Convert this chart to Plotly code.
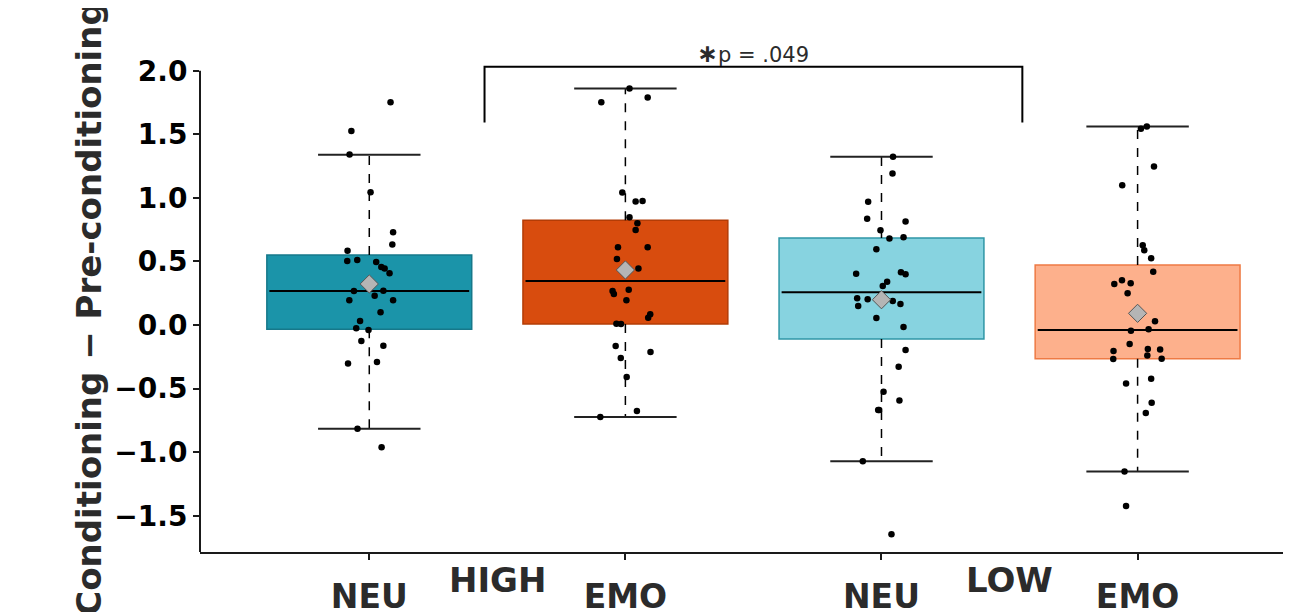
import plotly.graph_objects as go

# ---------------- data ----------------
categories = ["NEU", "EMO", "NEU", "EMO"]
groups = ["HIGH", "LOW"]
group_of_category = [0, 0, 1, 1]

q1 = [-0.034, 0.008, -0.110, -0.265]
median = [0.268, 0.346, 0.257, -0.039]
q3 = [0.551, 0.824, 0.685, 0.472]
upper_whisker = [1.339, 1.861, 1.323, 1.562]
lower_whisker = [-0.816, -0.724, -1.071, -1.152]
means = [0.323, 0.433, 0.199, 0.092]

neu_high = [1.753, 1.525, 1.341, 1.045, 0.730, 0.633, 0.585, 0.504, 0.512, 0.496,
            0.457, 0.444, 0.407, 0.268, 0.270, 0.231, 0.194, 0.194, 0.100, 0.031,
            -0.026, -0.039, -0.126, -0.163, -0.302, -0.291, -0.816, -0.961]
neu_high_jitter = [0.083, -0.070, -0.077, 0.005, 0.093, 0.090, -0.085, -0.086, -0.047, 0.027,
                   0.047, 0.060, 0.079, -0.060, 0.055, 0.021, -0.078, 0.093, 0.044, -0.036,
                   -0.051, -0.003, -0.031, 0.055, -0.083, 0.030, -0.046, 0.048]

emo_high = [1.861, 1.790, 1.753, 1.042, 0.971, 0.976, 0.848, 0.801, 0.748, 0.612,
            0.612, 0.520, 0.444, 0.268, 0.244, 0.278, 0.194, 0.084, 0.058, 0.011,
            0.008, -0.165, -0.213, -0.260, -0.409, -0.677, -0.724]
emo_high_jitter = [0.016, 0.087, -0.094, -0.012, 0.040, 0.067, 0.016, 0.047, 0.040, -0.029,
                   0.087, -0.033, 0.051, -0.050, -0.045, 0.013, 0.004, 0.097, 0.089, -0.035,
                   -0.017, -0.038, 0.098, -0.018, 0.005, 0.045, -0.098]

neu_low = [1.323, 1.191, 0.969, 0.835, 0.814, 0.745, 0.680, 0.690, 0.596, 0.404,
           0.415, 0.399, 0.341, 0.307, 0.210, 0.202, 0.189, 0.165, 0.150, 0.055,
           -0.016, -0.197, -0.328, -0.525, -0.593, -0.669, -0.669, -1.071, -1.646]
neu_low_jitter = [0.045, 0.043, -0.052, -0.056, 0.094, -0.004, 0.031, 0.086, -0.020, -0.099,
                  0.076, 0.094, 0.022, 0.005, -0.095, -0.054, 0.044, 0.074, -0.091, -0.020,
                  0.086, 0.094, 0.067, 0.008, 0.070, -0.013, -0.009, -0.073, 0.039]

emo_low = [1.562, 1.543, 1.247, 1.100, 0.627, 0.588, 0.525, 0.420, 0.352, 0.323,
           0.328, 0.249, 0.029, -0.034, -0.045, -0.150, -0.205, -0.189, -0.192, -0.239,
           -0.268, -0.265, -0.423, -0.459, -0.612, -0.691, -1.152, -1.423]
emo_low_jitter = [0.036, 0.013, 0.064, -0.060, 0.020, 0.026, 0.053, 0.061, -0.061, -0.091,
                  -0.027, -0.039, 0.068, 0.043, -0.026, -0.031, -0.094, 0.040, 0.088, 0.038,
                  -0.095, 0.094, 0.053, -0.045, 0.055, 0.032, -0.051, -0.045]

points = [neu_high, emo_high, neu_low, emo_low]
jitters = [neu_high_jitter, emo_high_jitter, neu_low_jitter, emo_low_jitter]

y_tick_values = [-1.5, -1.0, -0.5, 0.0, 0.5, 1.0, 1.5, 2.0]
y_axis_title = "Conditioning − Pre-conditioning"
sig_star = "∗"
sig_text = "p = .049"

# ---------------- styles ----------------
fill_colors = ["#1b94a9", "#d84c0e", "#87d3e0", "#fdb08c"]
edge_colors = ["#16788a", "#b33c06", "#2f96a6", "#ee7a44"]
box_width = 0.8
cap_width = 0.4
y_range = [-1.785, 2.045]
x_range = [0.339, 4.599]
bracket_x = [1.45, 3.55]
bracket_top = 2.031
bracket_leg = 1.593

positions = [i + 1 for i in range(len(categories))]

fig = go.Figure()

# whiskers (dashed) and caps
for p, lo, hi, a, b in zip(positions, lower_whisker, upper_whisker, q1, q3):
    fig.add_trace(go.Scatter(x=[p, p, None, p, p], y=[b, hi, None, a, lo], mode="lines",
                             line=dict(color="black", width=1.5, dash="dash"),
                             showlegend=False, hoverinfo="skip"))
    fig.add_trace(go.Scatter(x=[p - cap_width / 2, p + cap_width / 2, None,
                                p - cap_width / 2, p + cap_width / 2],
                             y=[hi, hi, None, lo, lo], mode="lines",
                             line=dict(color="#222222", width=2),
                             showlegend=False, hoverinfo="skip"))

# boxes
fig.add_trace(go.Bar(x=positions, base=q1, y=[b - a for a, b in zip(q1, q3)],
                     width=box_width,
                     marker=dict(color=fill_colors, line=dict(color=edge_colors, width=1.5)),
                     showlegend=False, hoverinfo="skip"))

# medians
for p, m in zip(positions, median):
    fig.add_trace(go.Scatter(x=[p - box_width / 2 + 0.01, p + box_width / 2 - 0.01], y=[m, m],
                             mode="lines", line=dict(color="black", width=2),
                             showlegend=False, hoverinfo="skip"))

# jittered points
for p, vals, jit in zip(positions, points, jitters):
    fig.add_trace(go.Scatter(x=[p + j for j in jit], y=vals, mode="markers",
                             marker=dict(color="black", size=6.5),
                             showlegend=False, hoverinfo="skip"))

# means
fig.add_trace(go.Scatter(x=positions, y=means, mode="markers",
                         marker=dict(symbol="diamond", size=14, color="#b5b5b5",
                                     line=dict(color="#555555", width=1)),
                         showlegend=False, hoverinfo="skip"))

# significance bracket
fig.add_trace(go.Scatter(x=[bracket_x[0], bracket_x[0], bracket_x[1], bracket_x[1]],
                         y=[bracket_leg, bracket_top, bracket_top, bracket_leg],
                         mode="lines", line=dict(color="black", width=2),
                         showlegend=False, hoverinfo="skip"))
fig.add_annotation(x=sum(bracket_x) / 2, y=bracket_top, xref="x", yref="y",
                   text='<span style="font-size:25px"><b>' + sig_star + '</b></span>' + sig_text,
                   showarrow=False, yanchor="bottom", yshift=-3,
                   font=dict(family="DejaVu Sans", size=21, color="#2b2b2b"))

# y-axis line (ending at the top tick)
fig.add_shape(type="line", xref="paper", yref="y", x0=0, x1=0,
              y0=y_range[0], y1=max(y_tick_values),
              line=dict(color="#1a1a1a", width=2))

# group labels
for gi, g in enumerate(groups):
    pos = [p for p, gc in zip(positions, group_of_category) if gc == gi]
    fig.add_annotation(x=sum(pos) / len(pos), y=0, xref="x", yref="paper",
                       text=g, showarrow=False, yanchor="top", yshift=-6,
                       font=dict(family="DejaVu Sans", size=34, color="#2b2b2b", weight="bold"))

fig.update_layout(
    width=1291, height=612,
    margin=dict(l=192, r=8, t=57, b=68, autoexpand=False),
    paper_bgcolor="white", plot_bgcolor="white",
    showlegend=False,
    xaxis=dict(range=x_range, tickmode="array", tickvals=positions, ticktext=categories,
               showgrid=False, zeroline=False, showline=True, linecolor="#1a1a1a", linewidth=2,
               ticks="outside", ticklen=6, tickwidth=1.5, tickcolor="#1a1a1a",
               ticklabelstandoff=8,
               tickfont=dict(family="DejaVu Sans", size=33, color="#2b2b2b", weight="bold")),
    yaxis=dict(range=y_range, tickmode="array", tickvals=y_tick_values, tickformat=".1f",
               showgrid=False, zeroline=False, showline=False,
               ticks="outside", ticklen=6, tickwidth=1.5, tickcolor="#1a1a1a",
               tickfont=dict(family="DejaVu Sans", size=28, color="black", weight="bold"),
               title=dict(text=y_axis_title, standoff=2,
                          font=dict(family="DejaVu Sans", size=34, color="#2b2b2b", weight="bold"))),
)

fig.write_html("out.html")
